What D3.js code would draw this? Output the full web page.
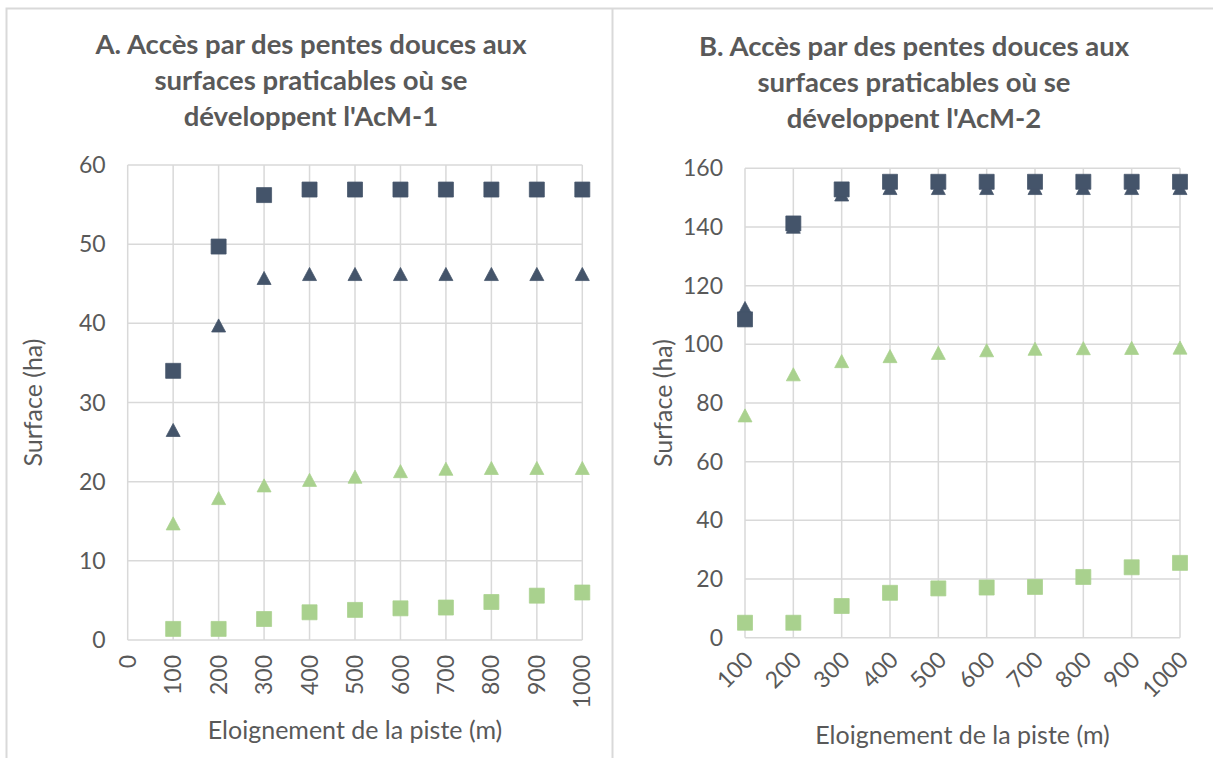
<!DOCTYPE html>
<html>
<head>
<meta charset="utf-8">
<script src="https://cdn.jsdelivr.net/npm/d3@7"></script>
<style>
  body { margin: 0; background: #fff; }
  svg text { font-family: Lato, "Open Sans", sans-serif; fill: #595959; }
</style>
</head>
<body>
<svg id="chart" width="1213" height="758"></svg>
<script>
/* données */
const distances = [100, 200, 300, 400, 500, 600, 700, 800, 900, 1000];

// A. AcM-1
const aDarkSquares = [34.0, 49.7, 56.2, 56.9, 56.9, 56.9, 56.9, 56.9, 56.9, 56.9];
const aDarkTriangles = [26.5, 39.7, 45.7, 46.2, 46.2, 46.2, 46.2, 46.2, 46.2, 46.2];
const aGreenTriangles = [14.7, 17.9, 19.5, 20.2, 20.6, 21.3, 21.6, 21.7, 21.7, 21.7];
const aGreenSquares = [1.4, 1.4, 2.65, 3.5, 3.8, 4.0, 4.1, 4.8, 5.6, 6.0];
const aXTicks = [0, 100, 200, 300, 400, 500, 600, 700, 800, 900, 1000];
const aYTicks = [0, 10, 20, 30, 40, 50, 60];

// B. AcM-2
const bDarkSquares = [108.5, 141.2, 152.8, 155.4, 155.4, 155.4, 155.4, 155.4, 155.4, 155.4];
const bDarkTriangles = [112.3, 140.0, 151.0, 153.2, 153.2, 153.2, 153.2, 153.2, 153.2, 153.2];
const bGreenTriangles = [75.7, 89.7, 94.2, 95.9, 97.0, 97.9, 98.4, 98.6, 98.7, 98.8];
const bGreenSquares = [5.1, 5.1, 10.8, 15.3, 16.8, 17.1, 17.3, 20.7, 24.0, 25.5];
const bXTicks = [100, 200, 300, 400, 500, 600, 700, 800, 900, 1000];
const bYTicks = [0, 20, 40, 60, 80, 100, 120, 140, 160];

const DARK = "#44546a", GREEN = "#a9d18e", GRID = "#d9d9d9";

const svg = d3.select("#chart");

// cadres
svg.append("path")
  .attr("d", "M6.5,758V8.5H1213M612.5,8.5V758")
  .attr("fill", "none").attr("stroke", GRID).attr("stroke-width", 2);

const triangle = "M0,-6.8L7,6.3L-7,6.3Z";

function drawChart(cfg) {
  const g = svg.append("g");
  const x = d3.scaleLinear().domain(cfg.xDomain).range(cfg.xRange);
  const y = d3.scaleLinear().domain(cfg.yDomain).range(cfg.yRange);

  // grille
  g.append("g").selectAll("line").data(cfg.yTicks).join("line")
    .attr("x1", cfg.xRange[0]).attr("x2", cfg.xRange[1])
    .attr("y1", d => y(d)).attr("y2", d => y(d))
    .attr("stroke", GRID).attr("stroke-width", 1.5);
  g.append("g").selectAll("line").data(cfg.xTicks).join("line")
    .attr("x1", d => x(d)).attr("x2", d => x(d))
    .attr("y1", cfg.yRange[0]).attr("y2", cfg.yRange[1])
    .attr("stroke", GRID).attr("stroke-width", 1.5);

  // étiquettes Y
  g.append("g").selectAll("text").data(cfg.yTicks).join("text")
    .attr("x", cfg.xRange[0] - 22).attr("y", d => y(d))
    .attr("dy", "0.35em").attr("text-anchor", "end")
    .style("font-size", "23px").text(d => d);

  // étiquettes X
  g.append("g").selectAll("text").data(cfg.xTicks).join("text")
    .attr("transform", d => "translate(" + (x(d) + cfg.xLabDx) + "," + (cfg.yRange[0] + cfg.xLabDy) + ") rotate(" + cfg.xLabRot + ")")
    .attr("dy", "0.35em").attr("text-anchor", "end")
    .style("font-size", "23px").text(d => d);

  // titres des axes
  g.append("text")
    .attr("transform", "translate(" + cfg.yTitleX + "," + (cfg.yRange[0] + cfg.yRange[1]) / 2 + ") rotate(-90)")
    .attr("text-anchor", "middle").attr("dy", "0.35em")
    .style("font-size", "25px").text("Surface (ha)");
  g.append("text")
    .attr("x", (cfg.xRange[0] + cfg.xRange[1]) / 2).attr("y", cfg.xTitleY)
    .attr("text-anchor", "middle").attr("dy", "0.35em")
    .style("font-size", "25px").text("Eloignement de la piste (m)");

  // titre
  g.append("text")
    .attr("x", cfg.titleX).attr("y", cfg.titleY)
    .attr("text-anchor", "middle")
    .style("font-size", "27.5px").style("font-weight", "bold")
    .selectAll("tspan").data(cfg.title).join("tspan")
      .attr("x", cfg.titleX).attr("dy", (d, i) => i ? 36 : 0).text(d => d);

  // séries
  const series = [
    { vals: cfg.darkTri, color: DARK, shape: "tri" },
    { vals: cfg.darkSq, color: DARK, shape: "sq" },
    { vals: cfg.greenTri, color: GREEN, shape: "tri" },
    { vals: cfg.greenSq, color: GREEN, shape: "sq" }
  ];
  const sq = d3.symbol().type(d3.symbolSquare).size(225)();
  series.forEach(s => {
    g.append("g").selectAll("path").data(s.vals).join("path")
      .attr("d", s.shape === "sq" ? sq : triangle)
      .attr("transform", (d, i) => "translate(" + x(distances[i]) + "," + y(d) + ")")
      .attr("fill", s.color).attr("stroke", s.color).attr("stroke-width", 0.75);
  });
}

drawChart({
  xDomain: [0, 1000], xRange: [127.7, 582.3],
  yDomain: [0, 60], yRange: [640, 165],
  xTicks: aXTicks, yTicks: aYTicks,
  xLabRot: -90, xLabDx: 0, xLabDy: 15,
  yTitleX: 33, xTitleY: 730,
  titleX: 311, titleY: 54,
  title: ["A. Accès par des pentes douces aux", "surfaces praticables où se", "développent l'AcM-1"],
  darkSq: aDarkSquares, darkTri: aDarkTriangles, greenTri: aGreenTriangles, greenSq: aGreenSquares
});

drawChart({
  xDomain: [100, 1000], xRange: [745, 1180],
  yDomain: [0, 160], yRange: [637.7, 168.3],
  xTicks: bXTicks, yTicks: bYTicks,
  xLabRot: -45, xLabDx: 4, xLabDy: 18,
  yTitleX: 663, xTitleY: 735,
  titleX: 914, titleY: 56,
  title: ["B. Accès par des pentes douces aux", "surfaces praticables où se", "développent l'AcM-2"],
  darkSq: bDarkSquares, darkTri: bDarkTriangles, greenTri: bGreenTriangles, greenSq: bGreenSquares
});
</script>
</body>
</html>
